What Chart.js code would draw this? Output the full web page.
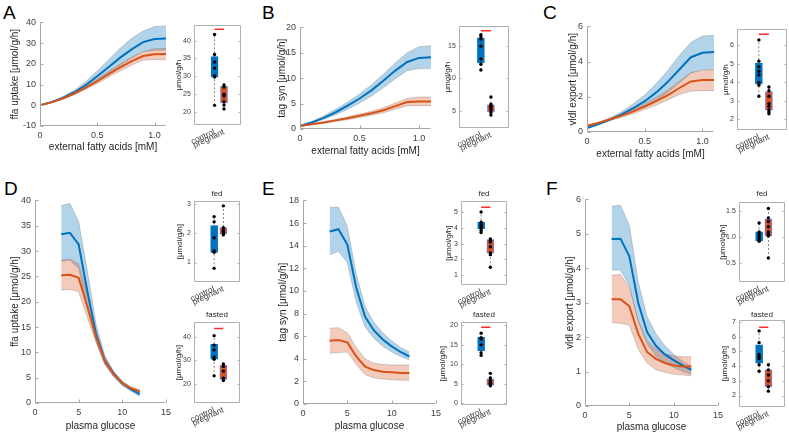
<!DOCTYPE html>
<html lang="en">
<head>
<meta charset="UTF-8">
<title>Hepatic lipid fluxes, control vs pregnant</title>
<style>
  body { margin: 0; width: 789px; height: 434px; background: #fff; position: relative; overflow: hidden; font-family: "Liberation Sans", Arial, sans-serif; }
  canvas { position: absolute; }
  .letter { position: absolute; font-size: 19px; line-height: 19px; color: #000; }
  .sub { position: absolute; font-size: 8px; line-height: 8px; color: #262626; text-align: center; }
</style>
</head>
<body>
<div class="letter" style="left:3px;top:3px">A</div>
<div class="letter" style="left:262px;top:3px">B</div>
<div class="letter" style="left:543px;top:3px">C</div>
<div class="letter" style="left:4px;top:179px">D</div>
<div class="letter" style="left:262px;top:179px">E</div>
<div class="letter" style="left:546px;top:179px">F</div>

<script src="https://cdn.jsdelivr.net/npm/chart.js@4.4.1/dist/chart.umd.min.js"></script>
<script>
// ---- x values
const fattyAcids = [0, 0.1, 0.2, 0.3, 0.4, 0.5, 0.6, 0.7, 0.8, 0.9, 1.0, 1.1];
const glucose = [3, 4, 5, 6, 7, 8, 9, 10, 11, 12];
const groups = ['control', 'pregnant'];

// ---- A: ffa uptake vs external fatty acids
const aCtrl   = [0, 1.5, 3.6, 6.3, 9.8, 14, 18.5, 23, 27, 30.5, 32, 32.2];
const aCtrlHi = [0, 1.7, 4.2, 7.3, 11.5, 16.6, 22, 27.5, 32.3, 35.8, 38, 38.2];
const aCtrlLo = [0, 1.3, 3.1, 5.4, 8.3, 11.9, 15.6, 19.3, 22.8, 26, 26.5, 26.6];
const aPreg   = [0, 1.4, 3.3, 5.7, 8.5, 11.6, 15, 18.3, 21.3, 23.8, 24.6, 24.7];
const aPregHi = [0, 1.5, 3.6, 6.2, 9.3, 12.7, 16.4, 20, 23.2, 25.8, 27.3, 27.5];
const aPregLo = [0, 1.3, 3.0, 5.2, 7.7, 10.5, 13.6, 16.6, 19.4, 21.8, 22.1, 22];

// ---- B: tag syn vs external fatty acids
const bCtrl   = [0.6, 1.3, 2.2, 3.3, 4.6, 6.0, 7.6, 9.5, 11.5, 13.2, 14.0, 14.1];
const bCtrlHi = [0.7, 1.5, 2.6, 3.9, 5.3, 6.9, 8.7, 10.8, 13, 15, 16.2, 16.4];
const bCtrlLo = [0.5, 1.1, 1.9, 2.8, 3.9, 5.1, 6.5, 8.1, 9.9, 11.5, 11.9, 11.9];
const bPreg   = [0.6, 0.95, 1.3, 1.7, 2.1, 2.6, 3.1, 3.7, 4.5, 5.3, 5.4, 5.4];
const bPregHi = [0.65, 1.05, 1.45, 1.9, 2.4, 2.95, 3.5, 4.2, 5.1, 6.0, 6.3, 6.3];
const bPregLo = [0.55, 0.85, 1.15, 1.5, 1.85, 2.25, 2.7, 3.2, 3.9, 4.6, 4.6, 4.6];

// ---- C: vldl export vs external fatty acids
const cCtrl   = [0.22, 0.45, 0.7, 1.0, 1.35, 1.75, 2.25, 2.85, 3.55, 4.25, 4.5, 4.55];
const cCtrlHi = [0.25, 0.5, 0.8, 1.15, 1.6, 2.1, 2.75, 3.5, 4.35, 5.1, 5.45, 5.5];
const cCtrlLo = [0.2, 0.42, 0.65, 0.9, 1.15, 1.45, 1.8, 2.25, 2.8, 3.35, 3.55, 3.55];
const cPreg   = [0.35, 0.52, 0.72, 0.93, 1.17, 1.45, 1.75, 2.1, 2.5, 2.87, 2.95, 2.96];
const cPregHi = [0.38, 0.57, 0.78, 1.02, 1.3, 1.62, 1.97, 2.38, 2.88, 3.38, 3.5, 3.52];
const cPregLo = [0.32, 0.47, 0.66, 0.84, 1.04, 1.28, 1.53, 1.82, 2.13, 2.32, 2.35, 2.35];

// ---- D: ffa uptake vs plasma glucose
const dCtrl   = [33.3, 33.6, 31.3, 22, 13.6, 8.4, 5.8, 3.9, 2.7, 1.75];
const dCtrlHi = [39, 39.4, 35.8, 26, 15.5, 9.3, 6.3, 4.3, 3.0, 2.1];
const dCtrlLo = [28, 28.2, 26.6, 18.5, 12, 7.6, 5.2, 3.4, 2.3, 1.3];
const dPreg   = [25.2, 25.3, 24.7, 19, 13.0, 8.25, 5.7, 3.9, 2.9, 2.3];
const dPregHi = [28.2, 28.4, 27.5, 21.5, 14, 8.9, 6.1, 4.2, 3.2, 2.6];
const dPregLo = [22.3, 22.4, 22, 16.8, 12, 7.6, 5.3, 3.6, 2.6, 2.0];

// ---- E: tag syn vs plasma glucose
const eCtrl   = [15.25, 15.45, 14.1, 10.3, 7.7, 6.5, 5.7, 5.1, 4.6, 4.2];
const eCtrlHi = [17.4, 17.4, 15.7, 11.5, 8.6, 7.2, 6.3, 5.6, 5.0, 4.6];
const eCtrlLo = [13.2, 13.5, 12.5, 9.0, 6.8, 5.8, 5.1, 4.6, 4.2, 3.9];
const ePreg   = [5.6, 5.65, 5.45, 4.2, 3.3, 3.0, 2.85, 2.8, 2.75, 2.75];
const ePregHi = [6.7, 6.75, 6.3, 5.0, 4.0, 3.6, 3.5, 3.45, 3.45, 3.45];
const ePregLo = [4.5, 4.55, 4.6, 3.5, 2.6, 2.3, 2.2, 2.15, 2.1, 2.1];

// ---- F: vldl export vs plasma glucose
const fCtrl   = [4.85, 4.86, 4.35, 3.0, 2.15, 1.75, 1.5, 1.33, 1.18, 1.05];
const fCtrlHi = [5.8, 5.83, 5.25, 3.6, 2.6, 2.1, 1.75, 1.5, 1.3, 1.15];
const fCtrlLo = [3.95, 3.95, 3.5, 2.45, 1.8, 1.45, 1.25, 1.12, 1.0, 0.92];
const fPreg   = [3.1, 3.1, 2.9, 2.1, 1.57, 1.37, 1.25, 1.18, 1.15, 1.15];
const fPregHi = [3.8, 3.82, 3.45, 2.5, 1.9, 1.65, 1.52, 1.45, 1.43, 1.43];
const fPregLo = [2.42, 2.4, 2.35, 1.65, 1.25, 1.05, 0.98, 0.92, 0.9, 0.88];

// ---- box plot insets: [q1, q3] boxes, individual points, significance bar level
const aBoxCtrl = [29.8, 35.5], aPtsCtrl = [41.7, 36.1, 34, 32.3, 30.2, 29.8, 21.9];
const aBoxPreg = [22.6, 27.3], aPtsPreg = [27.6, 27, 25, 24.5, 22.9, 22, 20.9];
const aSig = 43.2;
const bBoxCtrl = [12.4, 16.3], bPtsCtrl = [16.8, 16.5, 16.1, 15, 13, 12.2, 11.3];
const bBoxPreg = [4.8, 5.9], bPtsPreg = [7.1, 6, 5.7, 5.5, 5.3, 5.1, 4.7, 4.3];
const bSig = 17.4;
const cBoxCtrl = [3.9, 5.05], cPtsCtrl = [6.3, 5.15, 4.85, 4.6, 4.4, 4.0, 3.85, 3.25];
const cBoxPreg = [2.5, 3.5], cPtsPreg = [3.75, 3.55, 3.25, 2.85, 2.7, 2.5, 2.4, 2.3];
const cSig = 6.6;
const dFedBoxCtrl = [1.35, 2.27], dFedPtsCtrl = [2.58, 2.4, 1.85, 1.4, 1.35, 0.8];
const dFedBoxPreg = [1.98, 2.2], dFedPtsPreg = [2.95, 2.2, 2.1, 2.05, 2.0, 1.95];
const dFastBoxCtrl = [30.5, 36.8], dFastPtsCtrl = [40.5, 36.5, 34.5, 31.5, 30.5, 23.5];
const dFastBoxPreg = [22, 28], dFastPtsPreg = [28.5, 27.5, 25.5, 22.5, 21.5];
const dFastSig = 43.5;
const eFedBoxCtrl = [3.95, 4.35], eFedPtsCtrl = [5, 4.35, 4.2, 4.1, 4.0, 3.85, 3.7];
const eFedBoxPreg = [2.4, 3.25], eFedPtsPreg = [3.3, 3.2, 3.1, 2.8, 2.4, 2.3, 1.5];
const eFedSig = 5.3;
const eFastBoxCtrl = [13.5, 17], eFastPtsCtrl = [18, 16.8, 16.5, 15, 13, 12.3];
const eFastBoxPreg = [4.7, 6.3], eFastPtsPreg = [7.7, 6.5, 5.8, 5.5, 5.2, 4.9, 4.5];
const eFastSig = 19.5;
const fFedBoxCtrl = [0.93, 1.1], fFedPtsCtrl = [1.27, 1.1, 1.05, 1.0, 0.95, 0.92];
const fFedBoxPreg = [1.02, 1.35], fFedPtsPreg = [1.55, 1.37, 1.3, 1.2, 1.1, 1.05, 1.02, 0.6];
const fFastBoxCtrl = [4.2, 5.45], fFastPtsCtrl = [6.4, 5.6, 4.8, 4.7, 4.6, 4.5, 4.1, 3.65];
const fFastBoxPreg = [2.6, 3.75], fFastPtsPreg = [4.1, 3.75, 3.4, 3.0, 2.6, 2.3];
const fFastSig = 6.65;

const blue = '#0072BD', orange = '#D95319';
const blueBand = 'rgba(0,114,189,0.3)', orangeBand = 'rgba(217,83,25,0.3)';
const bandEdge = 'rgba(110,110,110,0.45)';
const tickColor = '#404040', titleColor = '#262626';

Chart.defaults.font.family = '"Liberation Sans", Arial, sans-serif';
Chart.defaults.animation = false;

// matlab style axes: thin gray lines, ticks pointing inwards
const matlabAxes = {
  id: 'matlabAxes',
  defaults: { color: '#a6a6a6', box: false, xTicks: true, tick: 3 },
  afterDatasetsDraw(chart, args, opts) {
    const { ctx, chartArea: a } = chart;
    const xs = chart.scales.x, ys = chart.scales.y;
    const L = Math.round(a.left) + 0.5, R = Math.round(a.right) - 0.5;
    const T = Math.round(a.top) + 0.5, B = Math.round(a.bottom) - 0.5;
    const n = opts.tick;
    ctx.save();
    ctx.strokeStyle = opts.color;
    ctx.lineWidth = 1;
    ctx.beginPath();
    ctx.moveTo(L, T); ctx.lineTo(L, B); ctx.lineTo(R, B);
    if (opts.box) { ctx.lineTo(R, T); ctx.lineTo(L, T); }
    if (opts.xTicks) {
      xs.ticks.forEach(t => {
        const p = Math.round(xs.getPixelForValue(t.value)) + 0.5;
        ctx.moveTo(p, B); ctx.lineTo(p, B - n);
      });
    }
    ys.ticks.forEach(t => {
      const p = Math.round(ys.getPixelForValue(t.value)) + 0.5;
      ctx.moveTo(L, p); ctx.lineTo(L + n, p);
      if (opts.box) { ctx.moveTo(R, p); ctx.lineTo(R - n, p); }
    });
    ctx.stroke();
    ctx.restore();
  }
};

function makeCanvas(left, top, w, h) {
  const cv = document.createElement('canvas');
  cv.width = Math.round(w);
  cv.height = Math.round(h);
  cv.style.left = Math.round(left) + 'px';
  cv.style.top = Math.round(top) + 'px';
  document.body.appendChild(cv);
  return cv;
}

function addSub(text, x0, x1, yc) {
  const d = document.createElement('div');
  d.className = 'sub';
  d.textContent = text;
  d.style.left = x0 + 'px';
  d.style.width = (x1 - x0) + 'px';
  d.style.top = (yc - 4) + 'px';
  document.body.appendChild(d);
}

const noGrid = { display: false, drawTicks: false };

// main line panel with shaded bands; x0..y1 = plot area in page pixels
function mainPanel(p) {
  const L = p.x0 - p.ytx + 6, B = p.xty - p.y1 + 6, T = 8, R = 12;
  const cv = makeCanvas(p.x0 - L, p.y0 - T, p.x1 - p.x0 + L + R, p.y1 - p.y0 + T + B);
  const pts = ys => p.xs.map((x, i) => ({ x: x, y: ys[i] }));
  const band = (hi, lo, fillCol, ord) => [
    { data: pts(hi), borderColor: bandEdge, borderWidth: 0.7, fill: false, order: ord },
    { data: pts(lo), borderColor: bandEdge, borderWidth: 0.7, fill: '-1', backgroundColor: fillCol, order: ord }
  ];
  new Chart(cv, {
    type: 'line',
    data: {
      datasets: [
        ...band(p.cHi, p.cLo, blueBand, 4),
        ...band(p.pHi, p.pLo, orangeBand, 3),
        { data: pts(p.c), borderColor: blue, borderWidth: 2, order: 1 },
        { data: pts(p.p), borderColor: orange, borderWidth: 2, order: 0 }
      ]
    },
    options: {
      responsive: false,
      events: [],
      elements: { point: { radius: 0 }, line: { tension: 0 } },
      layout: { padding: { top: T, right: R, left: 0, bottom: 0 } },
      plugins: { legend: { display: false }, tooltip: { enabled: false }, matlabAxes: { box: false, tick: 3 } },
      scales: {
        x: {
          type: 'linear', min: p.xmin, max: p.xmax,
          grid: noGrid, border: { display: false },
          ticks: { stepSize: p.xstep, includeBounds: false, maxRotation: 0, color: tickColor, font: { size: 9 }, padding: 4 },
          title: { display: true, text: p.xtitle, color: titleColor, font: { size: 10 }, padding: 0 },
          afterFit: s => { s.height = B; }
        },
        y: {
          type: 'linear', min: p.ymin, max: p.ymax,
          grid: noGrid, border: { display: false },
          ticks: { stepSize: p.ystep, includeBounds: false, color: tickColor, font: { size: 9 }, padding: 4 },
          title: { display: true, text: p.ytitle, color: titleColor, font: { size: 10 }, padding: 0 },
          afterFit: s => { s.width = L; }
        }
      }
    },
    plugins: [matlabAxes]
  });
}

// box plot inset, control at x=1 and pregnant at x=2
function boxPanel(p) {
  const L = p.x0 - p.ytx + 4.8, T = 5, R = 6, B = 34;
  const cv = makeCanvas(p.x0 - L, p.y0 - T, p.x1 - p.x0 + L + R, p.y1 - p.y0 + T + B);
  const col = (x, ys) => ys.map(y => ({ x: x, y: y }));
  const whisker = (x, ys) => ({
    type: 'line', data: [{ x: x, y: Math.min(...ys) }, { x: x, y: Math.max(...ys) }],
    borderColor: '#6a6a6a', borderWidth: 0.8, borderDash: [2, 2], pointRadius: 0, order: 5
  });
  const datasets = [
    whisker(1, p.ctrlPts),
    whisker(2, p.pregPts),
    {
      type: 'bar', data: [{ x: 1, y: p.ctrlBox }, { x: 2, y: p.pregBox }],
      backgroundColor: [blue, orange], borderColor: [blue, '#7a72e6'], borderWidth: 1,
      borderSkipped: false, barThickness: 7, order: 3
    },
    {
      type: 'scatter', data: col(1, p.ctrlPts).concat(col(2, p.pregPts)),
      pointRadius: 1.7, backgroundColor: '#000', borderWidth: 0, order: 1
    }
  ];
  if (p.sig !== null) {
    datasets.push({
      type: 'line', data: [{ x: 1, y: p.sig }, { x: 2, y: p.sig }],
      borderColor: '#ff2a2a', borderWidth: 1.5, pointRadius: 0, order: 0
    });
  }
  new Chart(cv, {
    type: 'scatter',
    data: { datasets: datasets },
    options: {
      responsive: false,
      events: [],
      layout: { padding: { top: T, right: R, left: 0, bottom: 0 } },
      plugins: { legend: { display: false }, tooltip: { enabled: false }, matlabAxes: { box: true, xTicks: false, tick: 2, color: '#b0b0b0' } },
      scales: {
        x: {
          type: 'linear', min: 0.05, max: 2.55,
          grid: noGrid, border: { display: false },
          afterBuildTicks: s => { s.ticks = [{ value: 1 }, { value: 2 }]; },
          ticks: { autoSkip: false, minRotation: 25, maxRotation: 25, color: tickColor, font: { size: 8.5 }, padding: 2,
                   callback: v => groups[v - 1] },
          afterFit: s => { s.height = B; }
        },
        y: {
          type: 'linear', min: p.ymin, max: p.ymax,
          grid: noGrid, border: { display: false },
          ticks: { stepSize: p.ystep, includeBounds: false, color: tickColor, font: { size: 7 }, padding: 3 },
          title: { display: true, text: p.ytitle, color: titleColor, font: { size: 8 }, padding: 0 },
          afterFit: s => { s.width = L; }
        }
      }
    },
    plugins: [matlabAxes]
  });
}

const faTitle = 'external fatty acids [mM]', gluTitle = 'plasma glucose';

mainPanel({ x0: 40, x1: 166, y0: 21, y1: 126, ytx: 15, xty: 147, xs: fattyAcids, xmin: 0, xmax: 1.1, xstep: 0.5,
  ymin: -10, ymax: 40, ystep: 10, xtitle: faTitle, ytitle: 'ffa uptake [μmol/g/h]',
  c: aCtrl, cHi: aCtrlHi, cLo: aCtrlLo, p: aPreg, pHi: aPregHi, pLo: aPregLo });
mainPanel({ x0: 300, x1: 431, y0: 26, y1: 129, ytx: 282, xty: 151, xs: fattyAcids, xmin: 0, xmax: 1.1, xstep: 0.5,
  ymin: 0, ymax: 20, ystep: 5, xtitle: faTitle, ytitle: 'tag syn [μmol/g/h]',
  c: bCtrl, cHi: bCtrlHi, cLo: bCtrlLo, p: bPreg, pHi: bPregHi, pLo: bPregLo });
mainPanel({ x0: 587, x1: 714, y0: 25, y1: 132, ytx: 573, xty: 154, xs: fattyAcids, xmin: 0, xmax: 1.1, xstep: 0.5,
  ymin: 0, ymax: 6, ystep: 2, xtitle: faTitle, ytitle: 'vldl export [μmol/g/h]',
  c: cCtrl, cHi: cCtrlHi, cLo: cCtrlLo, p: cPreg, pHi: cPregHi, pLo: cPregLo });
mainPanel({ x0: 35, x1: 166, y0: 199, y1: 403, ytx: 15, xty: 426, xs: glucose, xmin: 0, xmax: 15, xstep: 5,
  ymin: 0, ymax: 40, ystep: 5, xtitle: gluTitle, ytitle: 'ffa uptake [μmol/g/h]',
  c: dCtrl, cHi: dCtrlHi, cLo: dCtrlLo, p: dPreg, pHi: dPregHi, pLo: dPregLo });
mainPanel({ x0: 303, x1: 436, y0: 199, y1: 404, ytx: 283, xty: 426, xs: glucose, xmin: 0, xmax: 15, xstep: 5,
  ymin: 0, ymax: 18, ystep: 2, xtitle: gluTitle, ytitle: 'tag syn [μmol/g/h]',
  c: eCtrl, cHi: eCtrlHi, cLo: eCtrlLo, p: ePreg, pHi: ePregHi, pLo: ePregLo });
mainPanel({ x0: 585, x1: 718, y0: 198, y1: 406, ytx: 570, xty: 427, xs: glucose, xmin: 0, xmax: 15, xstep: 5,
  ymin: 0, ymax: 6, ystep: 1, xtitle: gluTitle, ytitle: 'vldl export [μmol/g/h]',
  c: fCtrl, cHi: fCtrlHi, cLo: fCtrlLo, p: fPreg, pHi: fPregHi, pLo: fPregLo });

boxPanel({ x0: 194, x1: 241, y0: 23, y1: 125, ytx: 179, ymin: 16.4, ymax: 44.3, ystep: 5, ytitle: 'μmol/g/h',
  ctrlBox: aBoxCtrl, ctrlPts: aPtsCtrl, pregBox: aBoxPreg, pregPts: aPtsPreg, sig: aSig });
boxPanel({ x0: 459, x1: 509, y0: 24, y1: 128, ytx: 448, ymin: 2.3, ymax: 18.1, ystep: 5, ytitle: 'μmol/g/h',
  ctrlBox: bBoxCtrl, ctrlPts: bPtsCtrl, pregBox: bBoxPreg, pregPts: bPtsPreg, sig: bSig });
boxPanel({ x0: 737, x1: 787, y0: 27, y1: 130, ytx: 726, ymin: 1.42, ymax: 6.88, ystep: 1, ytitle: 'μmol/g/h',
  ctrlBox: cBoxCtrl, ctrlPts: cPtsCtrl, pregBox: cBoxPreg, pregPts: cPtsPreg, sig: cSig });

boxPanel({ x0: 194, x1: 240, y0: 199, y1: 282, ytx: 180, ymin: 0.33, ymax: 3.11, ystep: 1, ytitle: '[μmol/g/h]',
  ctrlBox: dFedBoxCtrl, ctrlPts: dFedPtsCtrl, pregBox: dFedBoxPreg, pregPts: dFedPtsPreg, sig: null });
boxPanel({ x0: 194, x1: 240, y0: 320, y1: 403, ytx: 179, ymin: 12, ymax: 46.2, ystep: 10, ytitle: '[μmol/g/h]',
  ctrlBox: dFastBoxCtrl, ctrlPts: dFastPtsCtrl, pregBox: dFastBoxPreg, pregPts: dFastPtsPreg, sig: dFastSig });
boxPanel({ x0: 461, x1: 507, y0: 199, y1: 285, ytx: 449, ymin: 0.38, ymax: 5.68, ystep: 1, ytitle: '[μmol/g/h]',
  ctrlBox: eFedBoxCtrl, ctrlPts: eFedPtsCtrl, pregBox: eFedBoxPreg, pregPts: eFedPtsPreg, sig: eFedSig });
boxPanel({ x0: 461, x1: 507, y0: 320, y1: 405, ytx: 443, ymin: -0.4, ymax: 20.8, ystep: 5, ytitle: '[μmol/g/h]',
  ctrlBox: eFastBoxCtrl, ctrlPts: eFastPtsCtrl, pregBox: eFastBoxPreg, pregPts: eFastPtsPreg, sig: eFastSig });
boxPanel({ x0: 739, x1: 785, y0: 200, y1: 282, ytx: 723, ymin: 0.14, ymax: 1.67, ystep: 0.5, ytitle: '[μmol/g/h]',
  ctrlBox: fFedBoxCtrl, ctrlPts: fFedPtsCtrl, pregBox: fFedBoxPreg, pregPts: fFedPtsPreg, sig: null });
boxPanel({ x0: 739, x1: 785, y0: 318, y1: 407, ytx: 725, ymin: 1.22, ymax: 7.13, ystep: 1, ytitle: '[μmol/g/h]',
  ctrlBox: fFastBoxCtrl, ctrlPts: fFastPtsCtrl, pregBox: fFastBoxPreg, pregPts: fFastPtsPreg, sig: fFastSig });

addSub('fed', 194, 240, 194);
addSub('fasted', 194, 240, 315);
addSub('fed', 461, 507, 194);
addSub('fasted', 461, 507, 315);
addSub('fed', 739, 785, 194);
addSub('fasted', 739, 785, 315);
</script>
</body>
</html>
